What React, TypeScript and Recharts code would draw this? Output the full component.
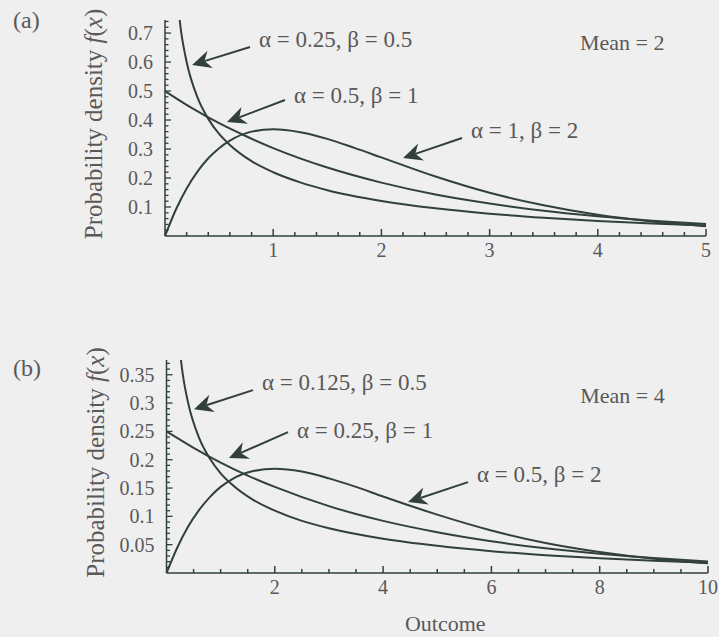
import React from "react"
import { LineChart, Line, XAxis, YAxis, ReferenceLine, ReferenceDot } from "recharts"

const INK = "#31413a"
const TEXT = "#595959"
const FONT = '"Liberation Serif", "DejaVu Serif", serif'

// (a) mean = 2
const xA1 = [0.1, 0.15, 0.2, 0.3, 0.4, 0.5, 0.6, 0.8, 1, 1.25, 1.5, 2, 2.5, 3, 3.5, 4, 4.5, 5]
const yA1 = [0.87, 0.702, 0.6, 0.478, 0.404, 0.352, 0.314, 0.258, 0.22, 0.185, 0.158, 0.121, 0.0955, 0.077, 0.063, 0.052, 0.043, 0.036]
const xA2 = [0, 0.25, 0.5, 0.75, 1, 1.5, 2, 2.5, 3, 3.5, 4, 4.5, 5]
const yA2 = [0.5, 0.441, 0.389, 0.344, 0.303, 0.236, 0.184, 0.143, 0.112, 0.087, 0.068, 0.053, 0.041]
const xA3 = [0, 0.1, 0.2, 0.3, 0.4, 0.5, 0.6, 0.8, 1, 1.25, 1.5, 1.75, 2, 2.5, 3, 3.5, 4, 4.5, 5]
const yA3 = [0, 0.0905, 0.164, 0.222, 0.268, 0.303, 0.329, 0.36, 0.368, 0.358, 0.335, 0.304, 0.271, 0.205, 0.149, 0.106, 0.073, 0.05, 0.034]

// (b) mean = 4
const xB1 = [0.2, 0.3, 0.4, 0.6, 0.8, 1, 1.2, 1.6, 2, 2.5, 3, 4, 5, 6, 7, 8, 9, 10]
const yB1 = [0.435, 0.351, 0.3, 0.239, 0.202, 0.176, 0.157, 0.129, 0.11, 0.092, 0.079, 0.0605, 0.048, 0.0385, 0.0315, 0.026, 0.0216, 0.018]
const xB2 = [0, 0.5, 1, 1.5, 2, 3, 4, 5, 6, 7, 8, 9, 10]
const yB2 = [0.25, 0.221, 0.195, 0.172, 0.152, 0.118, 0.092, 0.072, 0.056, 0.0435, 0.034, 0.0264, 0.0205]
const xB3 = [0, 0.2, 0.4, 0.6, 0.8, 1, 1.2, 1.6, 2, 2.5, 3, 3.5, 4, 5, 6, 7, 8, 9, 10]
const yB3 = [0, 0.045, 0.082, 0.111, 0.134, 0.152, 0.165, 0.18, 0.184, 0.179, 0.167, 0.152, 0.135, 0.103, 0.075, 0.053, 0.037, 0.025, 0.017]

const xLabelsA = [1, 2, 3, 4, 5]
const yLabelsA = [0.1, 0.2, 0.3, 0.4, 0.5, 0.6, 0.7]
const xLabelsB = [2, 4, 6, 8, 10]
const yLabelsB = [0.05, 0.1, 0.15, 0.2, 0.25, 0.3, 0.35]

const notesA = [
  { text: "α = 0.25, β = 0.5", from: [0.786, 0.652], to: [0.25, 0.59], dy: 0 },
  { text: "α = 0.5, β = 1", from: [1.109, 0.469], to: [0.573, 0.393], dy: 3 },
  { text: "α = 1, β = 2", from: [2.745, 0.338], to: [2.2, 0.269], dy: 0 },
]
const notesB = [
  { text: "α = 0.125, β = 0.5", from: [1.597, 0.3228], to: [0.508, 0.2892], dy: 0 },
  { text: "α = 0.25, β = 1", from: [2.244, 0.2487], to: [1.154, 0.2028], dy: 6 },
  { text: "α = 0.5, β = 2", from: [5.568, 0.1605], to: [4.46, 0.1252], dy: 0 },
]

const minor = (step: number, max: number) => {
  const out: number[] = []
  for (let i = 1; i * step <= max + 1e-9; i++) out.push(+(i * step).toFixed(4))
  return out
}
const isMajor = (v: number, list: number[]) => list.some((m) => Math.abs(m - v) < 1e-6)
const zip = (xs: number[], ys: number[]) => xs.map((x, i) => ({ x, y: ys[i] }))

const arrow = (text: string, dy: number) => (p: any) => {
  const { x1, y1, x2, y2 } = p
  const a = Math.atan2(y2 - y1, x2 - x1)
  const ux = Math.cos(a), uy = Math.sin(a)
  const L = 19, W = 9, N = 13
  const bx = x2 - ux * L, by = y2 - uy * L
  const nx = x2 - ux * N, ny = y2 - uy * N
  const pts = `${x2},${y2} ${bx - uy * W},${by + ux * W} ${nx},${ny} ${bx + uy * W},${by - ux * W}`
  return (
    <g>
      <line x1={x1} y1={y1} x2={nx} y2={ny} stroke={INK} strokeWidth={2} />
      <polygon points={pts} fill={INK} />
      <text x={x1 + 9} y={y1 + dy} fill={TEXT} fontSize={23} fontFamily={FONT}>
        {text}
      </text>
    </g>
  )
}

function Panel(props: any) {
  const { tag, tagY, width, height, margin, xMax, yMax, xStep, yStep, xLabels, yLabels, series, notes, mean, showOutcome } = props
  const XTick = ({ x, y, payload }: any) => {
    const major = isMajor(payload.value, xLabels)
    return (
      <g>
        <line x1={x} y1={y} x2={x} y2={y - (major ? 7 : 4)} stroke={INK} strokeWidth={1.5} />
        {major && (
          <text x={x} y={y + 21} textAnchor="middle" fill={TEXT} fontSize={20} fontFamily={FONT}>
            {payload.value}
          </text>
        )}
      </g>
    )
  }
  const YTick = ({ x, y, payload }: any) => {
    const major = isMajor(payload.value, yLabels)
    return (
      <g>
        <line x1={x} y1={y} x2={x + (major ? 6 : 3.5)} y2={y} stroke={INK} strokeWidth={1.3} />
        {major && (
          <text x={x - 12} y={y + 7} textAnchor="end" fill={TEXT} fontSize={20} fontFamily={FONT}>
            {payload.value}
          </text>
        )}
      </g>
    )
  }
  const yLabel = ({ viewBox }: any) => {
    const cx = viewBox.x - 3
    const cy = viewBox.y + viewBox.height / 2 - 4
    return (
      <g>
        <text x={13} y={tagY} fill={TEXT} fontSize={24} fontFamily={FONT}>
          {tag}
        </text>
        <text x={cx} y={cy} transform={`rotate(-90 ${cx} ${cy})`} textAnchor="middle" fill={TEXT} fontSize={25} fontFamily={FONT}>
          Probability density <tspan fontStyle="italic">f</tspan>(<tspan fontStyle="italic">x</tspan>)
        </text>
      </g>
    )
  }
  const xLabel = ({ viewBox }: any) =>
    showOutcome ? (
      <text x={viewBox.x + viewBox.width / 2 + 8} y={viewBox.y + 58} textAnchor="middle" fill={TEXT} fontSize={22} fontFamily={FONT}>
        Outcome
      </text>
    ) : null

  return (
    <LineChart width={width} height={height} margin={margin}>
      <XAxis
        type="number"
        dataKey="x"
        domain={[0, xMax]}
        ticks={minor(xStep, xMax)}
        interval={0}
        tickSize={0}
        tickMargin={0}
        tickLine={false}
        tick={<XTick />}
        height={30}
        axisLine={{ stroke: INK, strokeWidth: 1.5 }}
        label={xLabel}
      />
      <YAxis
        type="number"
        dataKey="y"
        domain={[0, yMax]}
        allowDataOverflow
        ticks={minor(yStep, yMax)}
        interval={0}
        tickSize={0}
        tickMargin={0}
        tickLine={false}
        tick={<YTick />}
        width={60}
        axisLine={{ stroke: INK, strokeWidth: 1.5 }}
        label={yLabel}
      />
      {series.map((s: any, i: number) => (
        <Line key={i} data={s} dataKey="y" type="monotone" dot={false} stroke={INK} strokeWidth={2} isAnimationActive={false} />
      ))}
      {notes.map((n: any, i: number) => (
        <ReferenceLine
          key={i}
          segment={[
            { x: n.from[0], y: n.from[1] },
            { x: n.to[0], y: n.to[1] },
          ]}
          shape={arrow(n.text, n.dy)}
        />
      ))}
      <ReferenceDot
        x={mean.x}
        y={mean.y}
        r={1}
        shape={(p: any) => (
          <text x={p.cx} y={p.cy} fill={TEXT} fontSize={22} fontFamily={FONT}>
            {mean.text}
          </text>
        )}
      />
    </LineChart>
  )
}

export default function App() {
  return (
    <div style={{ position: "absolute", left: 0, top: 0, width: 719, height: 637, background: "#efefef", overflow: "hidden" }}>
      <div style={{ position: "absolute", left: 0, top: 0 }}>
        <Panel
          tag="(a)"
          tagY={28}
          width={719}
          height={300}
          margin={{ top: 20, right: 13, bottom: 34, left: 105 }}
          xMax={5}
          yMax={0.745}
          xStep={0.2}
          yStep={0.02}
          xLabels={xLabelsA}
          yLabels={yLabelsA}
          series={[zip(xA1, yA1), zip(xA2, yA2), zip(xA3, yA3)]}
          notes={notesA}
          mean={{ text: "Mean = 2", x: 3.835, y: 0.641 }}
          showOutcome={false}
        />
      </div>
      <div style={{ position: "absolute", left: 0, top: 320 }}>
        <Panel
          tag="(b)"
          tagY={56}
          width={719}
          height={317}
          margin={{ top: 40, right: 11, bottom: 34, left: 106.5 }}
          xMax={10}
          yMax={0.376}
          xStep={0.5}
          yStep={0.01}
          xLabels={xLabelsB}
          yLabels={yLabelsB}
          series={[zip(xB1, yB1), zip(xB2, yB2), zip(xB3, yB3)]}
          notes={notesB}
          mean={{ text: "Mean = 4", x: 7.64, y: 0.3 }}
          showOutcome={true}
        />
      </div>
    </div>
  )
}
